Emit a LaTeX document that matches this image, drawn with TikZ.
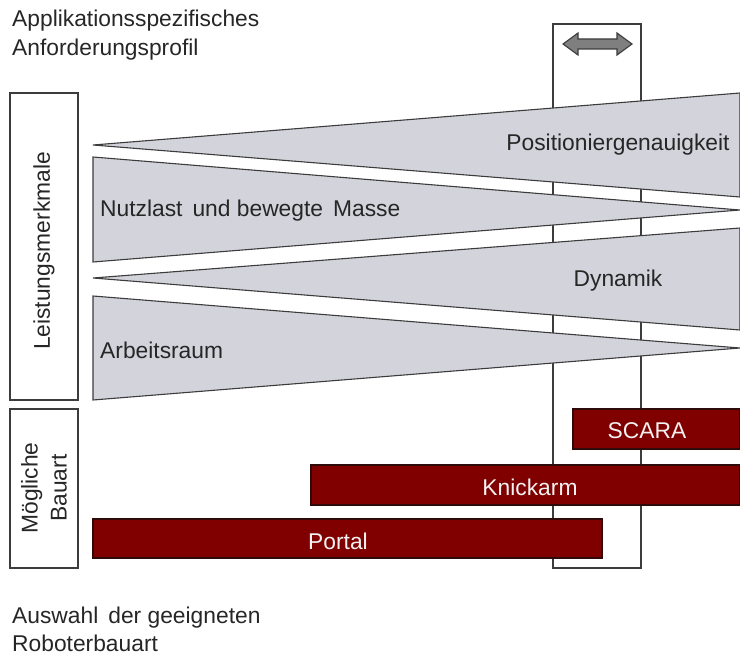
\documentclass[tikz,border=0pt]{standalone}
\usepackage{fontspec}
\setmainfont{Liberation Sans}
\begin{document}
\begin{tikzpicture}[x=1pt,y=-1pt,
  line/.style={draw=linegray,line width=1.1pt},
  frame/.style={line,fill=white},
  wedge/.style={line,fill=wedgefill,line join=miter},
  bar/.style={draw=bardark,line width=1.1pt,fill=barred,inner sep=0pt},
  lbl/.style={font=\fontsize{22.8}{28}\selectfont,text=txtgray,inner sep=0pt},
  barlbl/.style={font=\fontsize{22.8}{28}\selectfont,text=barwhite,inner sep=0pt},
]
\definecolor{linegray}{HTML}{3C3C3C}
\definecolor{wedgefill}{HTML}{D3D3DC}
\definecolor{barred}{HTML}{800000}
\definecolor{bardark}{HTML}{2E0A0A}
\definecolor{barwhite}{HTML}{F2F2F2}
\definecolor{txtgray}{HTML}{262626}
\definecolor{arrowgray}{HTML}{7F7F7F}
\useasboundingbox (0,0) rectangle (740,658);

% selection window (behind everything)
\draw[frame] (553,24) rectangle (641,568);
\draw[line,fill=arrowgray,line join=miter]
  (563,44) -- (578,33) -- (578,39) -- (617,39) -- (617,33) -- (632,44)
  -- (617,55) -- (617,49) -- (578,49) -- (578,55) -- cycle;

% category boxes
\draw[line] (10,93) rectangle (78,400);
\draw[line] (10,409) rectangle (78,568);
\node[lbl,rotate=90] (lm) at (44,251) {Leistungsmerkmale};
\node[lbl,rotate=90,align=center,font=\fontsize{22.8}{29}\selectfont] (mb) at (44,488) {Mögliche\\Bauart};

% requirement wedges
\draw[wedge] (93,145) -- (740,93) -- (740,197) -- cycle;
\draw[wedge] (93,157) -- (740,210) -- (93,262) -- cycle;
\draw[wedge] (93,278) -- (740,228) -- (740,330) -- cycle;
\draw[wedge] (93,296) -- (740,348) -- (93,400) -- cycle;
\node[lbl,anchor=center] (pg) at (618,145) {Positioniergenauigkeit};
\node[lbl,anchor=west] (nl) at (100,211) {Nutzlast\hspace{10pt}und bewegte\hspace{10pt}Masse};
\node[lbl,anchor=center] (dy) at (618,281) {Dynamik};
\node[lbl,anchor=west] (ar) at (100,350) {Arbeitsraum};

% robot types
\draw[bar] (573,409) rectangle (740,449);
\draw[bar] (311,465) rectangle (740,505);
\draw[bar] (93,519) rectangle (602,558);
\node[barlbl] (sc) at (647,431) {SCARA};
\node[barlbl] (ka) at (530,487) {Knickarm};
\node[barlbl] (po) at (338,541) {Portal};

% headings
\node[lbl,anchor=north west,align=left,font=\fontsize{22.8}{28.5}\selectfont] (top) at (12,10)
  {Applikationsspezifisches\\Anforderungsprofil};
\node[lbl,anchor=north west,align=left,font=\fontsize{22.8}{28}\selectfont] (bot) at (12,607)
  {Auswahl\hspace{10pt}der geeigneten\\Roboterbauart};
\end{tikzpicture}
\end{document}
